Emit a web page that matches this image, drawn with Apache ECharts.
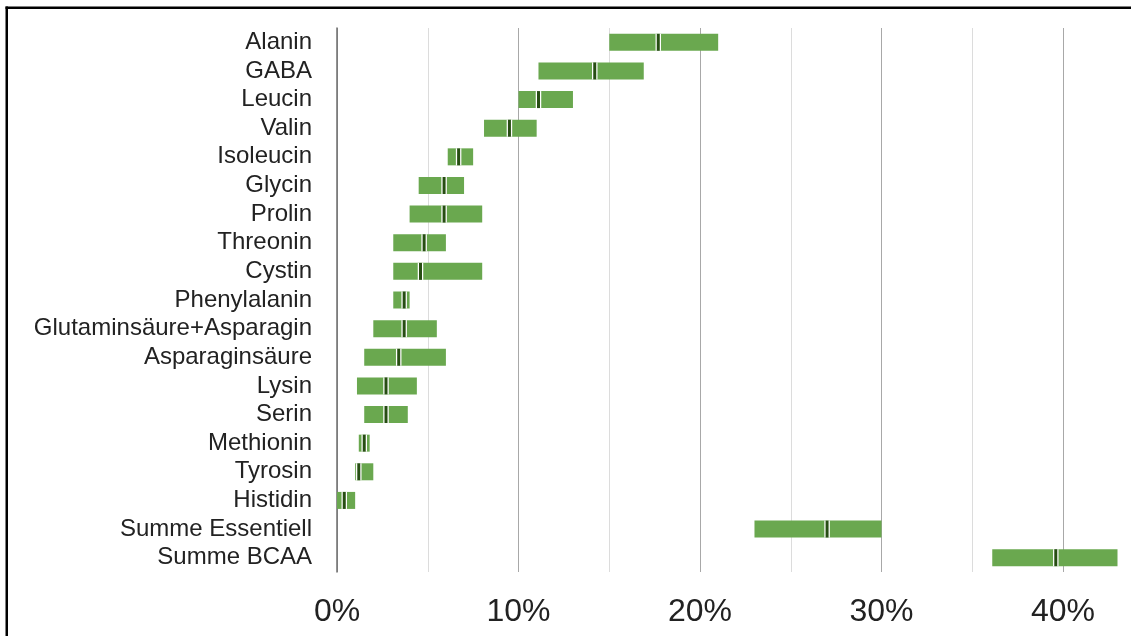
<!DOCTYPE html>
<html>
<head>
<meta charset="utf-8">
<script src="https://cdn.jsdelivr.net/npm/echarts@6/dist/echarts.min.js"></script>
<style>
  html, body { margin: 0; padding: 0; background: #fff; }
  #chart { width: 1131px; height: 636px; }
</style>
</head>
<body>
<div id="chart"></div>
<script>
const categories = ['Alanin', 'GABA', 'Leucin', 'Valin', 'Isoleucin', 'Glycin', 'Prolin', 'Threonin', 'Cystin', 'Phenylalanin', 'Glutaminsäure+Asparagin', 'Asparaginsäure', 'Lysin', 'Serin', 'Methionin', 'Tyrosin', 'Histidin', 'Summe Essentiell', 'Summe BCAA'];
const minValues = [15.0, 11.1, 10.0, 8.1, 6.1, 4.5, 4.0, 3.1, 3.1, 3.1, 2.0, 1.5, 1.1, 1.5, 1.2, 1.0, 0.0, 23.0, 36.1];
const maxValues = [21.0, 16.9, 13.0, 11.0, 7.5, 7.0, 8.0, 6.0, 8.0, 4.0, 5.5, 6.0, 4.4, 3.9, 1.8, 2.0, 1.0, 30.0, 43.0];
const medianValues = [17.7, 14.2, 11.1, 9.5, 6.7, 5.9, 5.9, 4.8, 4.6, 3.7, 3.7, 3.4, 2.7, 2.7, 1.5, 1.2, 0.4, 27.0, 39.6];
const xTicks = [0, 10, 20, 30, 40];

const rangeValues = maxValues.map((v, i) => +(v - minValues[i]).toFixed(3));
const medianData = medianValues.map((v, i) => [v, i]);

const chart = echarts.init(document.getElementById('chart'), null, { renderer: 'canvas' });
const FONT = '"Liberation Sans", Arial, Helvetica, sans-serif';
chart.setOption({
  backgroundColor: '#ffffff',
  animation: false,
  grid: { left: 337, right: 13.5, top: 28, bottom: 64, containLabel: false },
  xAxis: {
    type: 'value',
    min: 0,
    max: 43,
    interval: 5,
    axisLine: { show: false },
    axisTick: { show: false },
    axisLabel: {
      show: true,
      showMaxLabel: false,
      margin: 24,
      fontSize: 32,
      fontFamily: FONT,
      color: '#222',
      formatter: v => xTicks.indexOf(v) >= 0 ? v + '%' : ''
    },
    splitLine: {
      show: true,
      showMaxLine: false,
      lineStyle: { color: ['#a8a8a8', '#dcdcdc'], width: 1 }
    }
  },
  yAxis: {
    type: 'category',
    inverse: true,
    data: categories,
    axisLine: { show: true, lineStyle: { color: '#6e6e6e', width: 1.5 } },
    axisTick: { show: false },
    axisLabel: { interval: 0, margin: 25, fontSize: 24, fontFamily: FONT, color: '#222' },
    splitLine: { show: false }
  },
  series: [
    {
      type: 'bar',
      stack: 'range',
      data: minValues,
      barWidth: 17,
      itemStyle: { color: 'rgba(0,0,0,0)' },
      silent: true
    },
    {
      type: 'bar',
      stack: 'range',
      data: rangeValues,
      barWidth: 17,
      itemStyle: { color: '#6aa84f' }
    },
    {
      type: 'custom',
      data: medianData,
      encode: { x: 0, y: 1 },
      renderItem: function (params, api) {
        const p = api.coord([api.value(0), api.value(1)]);
        const h = 17;
        return {
          type: 'group',
          children: [
            { type: 'rect', shape: { x: p[0] - 2.75, y: p[1] - h / 2, width: 5.5, height: h }, style: { fill: '#ffffff' } },
            { type: 'rect', shape: { x: p[0] - 1.5, y: p[1] - h / 2, width: 3, height: h }, style: { fill: '#274e13' } }
          ]
        };
      },
      z: 5
    }
  ],
  graphic: [
    { type: 'rect', shape: { x: 5.5, y: 6.5, width: 2.5, height: 640 }, style: { fill: '#000' } },
    { type: 'rect', shape: { x: 5.5, y: 6.5, width: 1130, height: 2.5 }, style: { fill: '#000' } }
  ]
});
</script>
</body>
</html>
